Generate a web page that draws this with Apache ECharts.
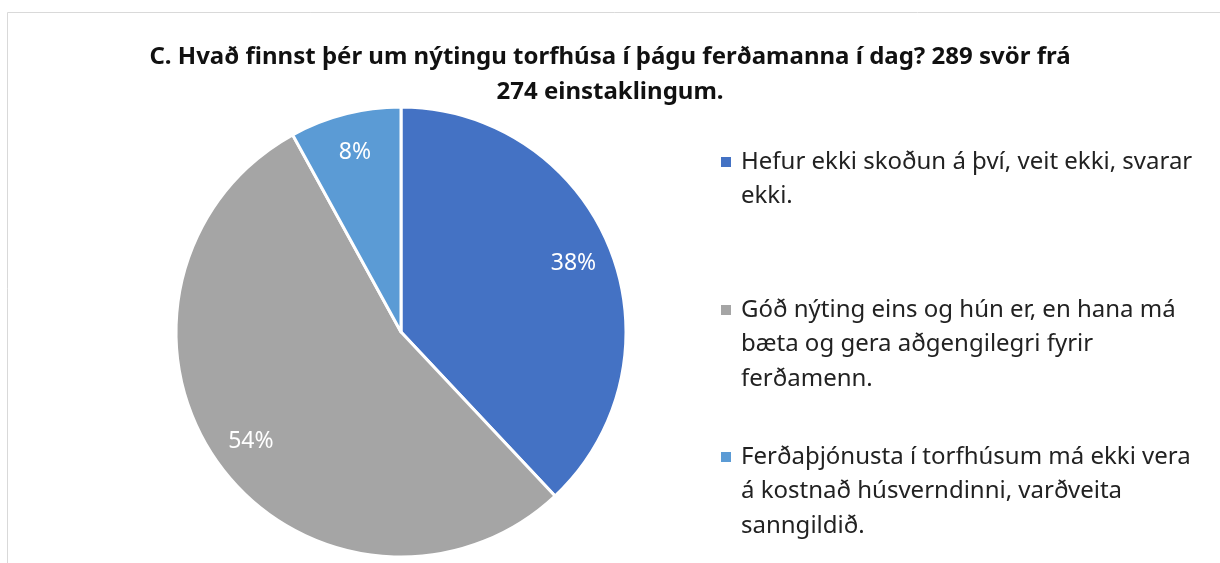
<!DOCTYPE html>
<html>
<head>
    <meta charset="utf-8">
    <title>Torfhús</title>
    <script type="text/javascript" src="https://cdn.jsdelivr.net/npm/echarts@6/dist/echarts.min.js"></script>
    <style>
        body { margin: 0; background: #fff; }
    </style>
</head>
<body>
<div id="chartmain" style="width:1220px; height:563px;"></div>

<script type="text/javascript">
    // svörin
    var categories = [
        'Hefur ekki skoðun á því, veit ekki, svarar\nekki.',
        'Góð nýting eins og hún er, en hana má\nbæta og gera aðgengilegri fyrir\nferðamenn.',
        'Ferðaþjónusta í torfhúsum má ekki vera\ná kostnað húsverndinni, varðveita\nsanngildið.'
    ];
    var values = [38, 54, 8];
    var colors = ['#4472C4', '#A5A5A5', '#5B9BD5'];
    var legendTops = [150, 298, 445];

    var pieData = [];
    for (var i = 0; i < categories.length; i++) {
        pieData.push({name: categories[i], value: values[i], itemStyle: {color: colors[i]}});
    }

    // ferningur fyrir framan fyrstu línu, inndráttur á hinum
    function legendText(name) {
        var lines = name.split('\n');
        var out = [];
        for (var k = 0; k < lines.length; k++) {
            out.push((k === 0 ? '{m|}{g|}' : '{s|}') + '{t|' + lines[k] + '}');
        }
        return out.join('\n');
    }

    var legends = [];
    for (var j = 0; j < categories.length; j++) {
        legends.push({
            data: [categories[j]],
            orient: 'vertical',
            left: 716,
            top: legendTops[j],
            padding: 0,
            icon: 'none',
            itemWidth: 0,
            itemHeight: 10,
            selectedMode: false,
            formatter: legendText,
            textStyle: {
                rich: {
                    m: {width: 10, height: 10, backgroundColor: colors[j], lineHeight: 34.5},
                    g: {width: 10, lineHeight: 34.5},
                    s: {width: 20, lineHeight: 34.5},
                    t: {fontFamily: 'Noto Sans', fontSize: 24, color: '#222', lineHeight: 34.5}
                }
            }
        });
    }

    var option = {
        animation: false,
        backgroundColor: '#fff',
        title: {
            text: 'C. Hvað finnst þér um nýtingu torfhúsa í þágu ferðamanna í dag? 289 svör frá\n274 einstaklingum.',
            left: 'center',
            top: 40,
            padding: [0, 0, 0, 8],
            textStyle: {
                fontFamily: 'Noto Sans',
                fontSize: 24,
                fontWeight: 'bold',
                color: '#111',
                lineHeight: 35
            }
        },
        graphic: [{
            type: 'rect',
            silent: true,
            shape: {x: 7.5, y: 12.5, width: 1300, height: 700},
            style: {fill: 'none', stroke: '#d9d9d9', lineWidth: 1}
        }],
        legend: legends,
        series: [{
            name: 'svör',
            type: 'pie',
            center: [401, 332],
            radius: 225,
            startAngle: 90,
            clockwise: true,
            label: {show: false},
            labelLine: {show: false},
            itemStyle: {borderColor: '#fff', borderWidth: 3},
            data: pieData
        }, {
            // bara fyrir prósentumerkin
            name: 'merki',
            type: 'pie',
            silent: true,
            center: [401, 332],
            radius: [140, 225],
            startAngle: 90,
            clockwise: true,
            itemStyle: {color: 'rgba(0,0,0,0)', borderWidth: 0},
            label: {
                show: true,
                position: 'inside',
                formatter: '{c}%',
                fontFamily: 'Noto Sans',
                fontSize: 23,
                color: '#fff'
            },
            labelLine: {show: false},
            data: values.map(function (v, k) { return {name: categories[k], value: v}; })
        }]
    };

    var myChart = echarts.init(document.getElementById('chartmain'));
    myChart.setOption(option);
</script>
</body>
</html>
